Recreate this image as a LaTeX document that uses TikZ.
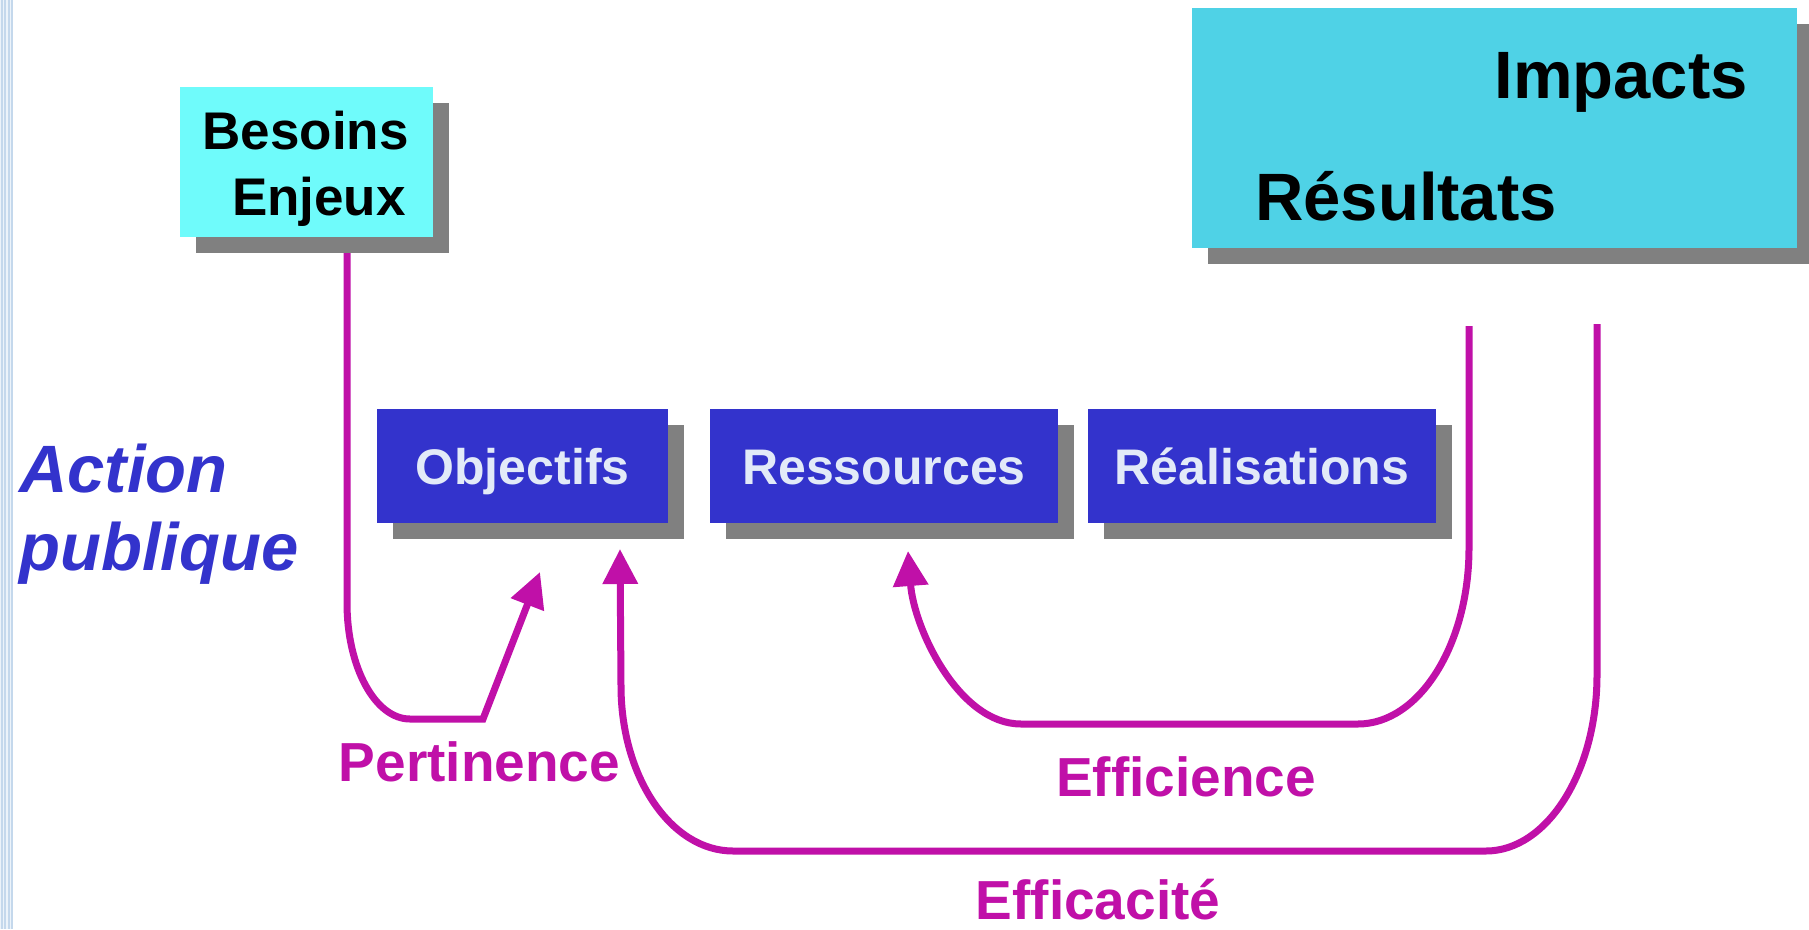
\documentclass[tikz,border=0pt]{standalone}
\usepackage{fontspec}
\setmainfont{Liberation Sans}
\usetikzlibrary{arrows.meta,shadows}
\definecolor{mag}{RGB}{192,16,168}
\definecolor{boxblue}{RGB}{51,51,204}
\definecolor{txtlight}{RGB}{226,234,248}
\definecolor{cyanA}{RGB}{111,251,251}
\definecolor{cyanB}{RGB}{79,210,230}
\definecolor{shad}{RGB}{128,128,128}
\definecolor{stripbg}{RGB}{236,243,250}
\definecolor{stripln}{RGB}{196,216,236}
\begin{document}
\begin{tikzpicture}[x=1pt,y=-1pt,
  shadowed/.style={drop shadow={shadow xshift=16pt,shadow yshift=-16pt,fill=shad,opacity=1}},
  plainbox/.style={rectangle,inner sep=0pt,draw=none,shadowed},
  bluebox/.style={plainbox,fill=boxblue,text=txtlight,minimum height=114pt,
     font=\fontsize{50}{60}\selectfont\bfseries,text height=36pt,text depth=0pt},
  blacktxt/.style={inner sep=0pt,text=black},
  conn/.style={draw=mag,line width=7pt},
  arr/.style={conn,-{Triangle[width=34pt,length=35pt]}},
  critlabel/.style={inner sep=0pt,text=mag,font=\fontsize{55}{66}\selectfont\bfseries,anchor=base}
]
\useasboundingbox (0,0) rectangle (1809,929);
\fill[white] (0,0) rectangle (1809,929);
% left slide strip
\fill[stripbg] (0,0) rectangle (13,929);
\foreach \xx in {2,5,9,12} {\draw[stripln,line width=1.2pt] (\xx,0) -- (\xx,929);}

% boxes
\node[plainbox,fill=cyanA,minimum width=253pt,minimum height=150pt] (besoins) at (306.5,162) {};
\node[blacktxt,anchor=base east,font=\fontsize{53}{60}\selectfont\bfseries] (tbes) at (409,149) {Besoins};
\node[blacktxt,anchor=base east,font=\fontsize{53}{60}\selectfont\bfseries] (tenj) at (406,215) {Enjeux};

\node[plainbox,fill=cyanB,minimum width=605pt,minimum height=240pt] (results) at (1494.5,128) {};
\node[blacktxt,anchor=base,font=\fontsize{67}{80}\selectfont\bfseries] (timp) at (1621,98) {Impacts};
\node[blacktxt,anchor=base,font=\fontsize{67}{80}\selectfont\bfseries] (tres) at (1406,220) {Résultats};

\node[bluebox,minimum width=291pt] (objectifs) at (522.5,466) {Objectifs};
\node[bluebox,minimum width=348pt] (ressources) at (884,466) {Ressources};
\node[bluebox,minimum width=348pt] (realisations) at (1262,466) {Réalisations};

\node[inner sep=0pt,anchor=base west,text=boxblue,font=\fontsize{67}{80}\selectfont\bfseries\itshape] (action) at (19,492) {Action};
\node[inner sep=0pt,anchor=base west,text=boxblue,font=\fontsize{67}{80}\selectfont\bfseries\itshape] (publique) at (19,570) {publique};

% free ends
\coordinate (pertTip) at (540,572);
\coordinate (effcTop) at (1597,324);
\coordinate (effcTip) at (620,549);
\coordinate (effiTop) at (1469,326);
\coordinate (effiTip) at (908,551);

% Pertinence
\draw[arr] ([xshift=40.5pt,yshift=-16pt]besoins.south) -- (347,603)
   .. controls (347,667) and (375,719) .. (410,719) -- (483,719) -- (pertTip);
% Efficacite
\draw[arr] (effcTop) -- (1597,675) .. controls (1597,772) and (1547,851) .. (1486,851)
   -- (733,851) .. controls (671,851) and (621,777) .. (621,686) -- (effcTip);
% Efficience
\draw[arr] (effiTop) -- (1469,548) .. controls (1469,645) and (1419,724) .. (1358,724)
   -- (1021,724) .. controls (959,724) and (914,629) .. (effiTip);

% labels
\node[critlabel] (lpert) at (479.5,781) {Pertinence};
\node[critlabel] (leffi) at (1186,796) {Efficience};
\node[critlabel] (leffc) at (1098,919) {Efficacité};
\end{tikzpicture}
\end{document}
